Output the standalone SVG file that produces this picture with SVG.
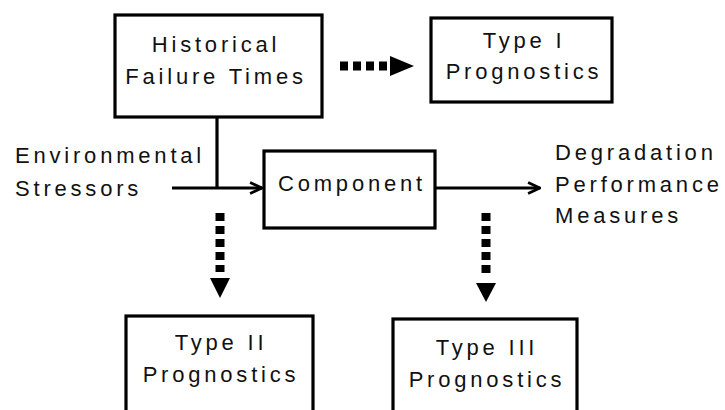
<svg xmlns="http://www.w3.org/2000/svg" width="725" height="410" viewBox="0 0 725 410">
<defs>
<style>
.box{fill:#fff;stroke:#000;stroke-width:3.2}
.t{font-family:"Liberation Sans",Arial,sans-serif;font-size:22px;letter-spacing:3.8px;fill:#111}
.ln{stroke:#000;stroke-width:3.2;fill:none}
.dash{stroke:#000;stroke-width:9;fill:none;stroke-dasharray:8 5}
</style>
<marker id="ah" viewBox="0 0 10 10" refX="9.5" refY="5" markerWidth="14" markerHeight="14" markerUnits="userSpaceOnUse" orient="auto">
<path d="M1,1 L9.5,5 L1,9" fill="none" stroke="#000" stroke-width="2"/>
</marker>
</defs>
<rect width="725" height="410" fill="#fff"/>
<g id="historical">
<rect class="box" x="115" y="15" width="207" height="102"/>
<text class="t" x="216" y="52" text-anchor="middle">Historical</text>
<text class="t" x="216" y="84" text-anchor="middle">Failure Times</text>
</g>
<g id="type1">
<rect class="box" x="431" y="18" width="181" height="84"/>
<text class="t" x="524" y="48" text-anchor="middle">Type I</text>
<text class="t" x="524" y="79" text-anchor="middle">Prognostics</text>
</g>
<g id="component">
<rect class="box" x="264" y="151" width="171" height="77"/>
<text class="t" x="352" y="191" text-anchor="middle">Component</text>
</g>
<g id="type2">
<rect class="box" x="126" y="316" width="187" height="100"/>
<text class="t" x="221" y="350" text-anchor="middle">Type II</text>
<text class="t" x="221" y="382" text-anchor="middle">Prognostics</text>
</g>
<g id="type3">
<rect class="box" x="393" y="319" width="184" height="100"/>
<text class="t" x="487" y="355" text-anchor="middle">Type III</text>
<text class="t" x="487" y="387" text-anchor="middle">Prognostics</text>
</g>
<g id="labels">
<text class="t" x="15" y="163">Environmental</text>
<text class="t" x="15" y="196">Stressors</text>
<text class="t" x="555" y="160">Degradation</text>
<text class="t" x="555" y="192">Performance</text>
<text class="t" x="555" y="223">Measures</text>
</g>
<g id="connectors">
<path class="ln" d="M217,117 V188"/>
<path class="ln" d="M172,188 H262" marker-end="url(#ah)"/>
<path class="ln" d="M435,188 H540" marker-end="url(#ah)"/>
<path class="dash" d="M340,66 H392"/>
<path d="M390,56 L414,66 L390,76 Z" fill="#000"/>
<path class="dash" d="M220,213 V272"/>
<path d="M210,278 L230,278 L220,298 Z" fill="#000"/>
<path class="dash" d="M486,213 V277"/>
<path d="M476,283 L496,283 L486,302 Z" fill="#000"/>
</g>
</svg>
